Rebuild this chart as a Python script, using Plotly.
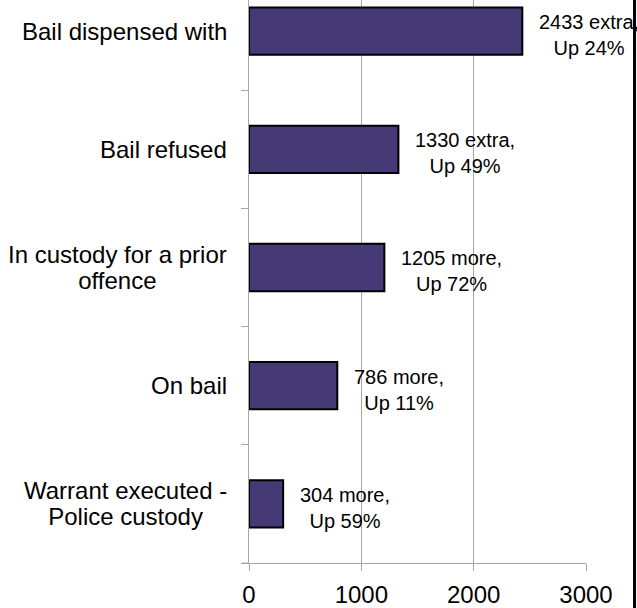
import plotly.graph_objects as go

categories = ["Warrant executed -<br>Police custody", "On bail",
              "In custody for a prior<br>offence", "Bail refused", "Bail dispensed with"]
values = [304, 786, 1205, 1330, 2433]
change_words = ["more", "more", "more", "extra", "extra"]
pct_up = [59, 11, 72, 49, 24]
x_ticks = [0, 1000, 2000, 3000]

FONT = "Liberation Sans, Arial, sans-serif"
GRAY = "#a6a6a6"

fig = go.Figure()
fig.add_trace(go.Bar(
    y=categories, x=values, orientation="h", width=0.4,
    marker=dict(color="#453a75", line=dict(color="black", width=2)),
    hoverinfo="skip",
))

for c, v, w, p in zip(categories, values, change_words, pct_up):
    fig.add_annotation(
        x=v, y=c, xref="x", yref="y", text=f"{v} {w},<br>Up {p}%",
        showarrow=False, xanchor="left", yanchor="middle", align="center",
        xshift=15, yshift=-4, font=dict(family=FONT, size=20, color="black"),
    )
    # category label: block right-aligned, lines centred, tight line spacing
    styled = "<br>".join(f"<span style='font-size:24px'>{ln}</span>"
                         for ln in c.split("<br>"))
    fig.add_annotation(
        x=0, y=c, xref="paper", yref="y", text=styled,
        showarrow=False, xanchor="right", yanchor="middle", align="center",
        xshift=-20, font=dict(family=FONT, size=20, color="black"),
    )

fig.add_shape(type="line", xref="paper", yref="paper",
              x0=1.144, x1=1.144, y0=-0.2, y1=1.2,
              line=dict(color="black", width=3))
fig.add_shape(type="line", xref="paper", yref="paper",
              x0=-7 / 337, x1=0, y0=0, y1=0,
              line=dict(color=GRAY, width=1))

fig.update_layout(
    width=637, height=608,
    margin=dict(l=249, r=51, t=0, b=43),
    paper_bgcolor="white", plot_bgcolor="white",
    showlegend=False,
    font=dict(family=FONT, color="black"),
)
fig.update_xaxes(
    range=[0, 3000], tickvals=x_ticks, ticktext=[str(t) for t in x_ticks],
    showgrid=True, gridcolor=GRAY, gridwidth=1,
    showline=True, linecolor=GRAY, linewidth=1,
    ticks="outside", ticklen=7, tickcolor=GRAY,
    tickfont=dict(family=FONT, size=24, color="black"),
    zeroline=False, ticklabelstandoff=3,
)
fig.update_yaxes(
    type="category", categoryorder="array", categoryarray=categories,
    range=[-0.5, 4.263], tickson="boundaries",
    showgrid=False, showline=True, linecolor=GRAY, linewidth=1,
    ticks="outside", ticklen=7, tickcolor=GRAY,
    showticklabels=False,
)

fig.write_html("out.html")
